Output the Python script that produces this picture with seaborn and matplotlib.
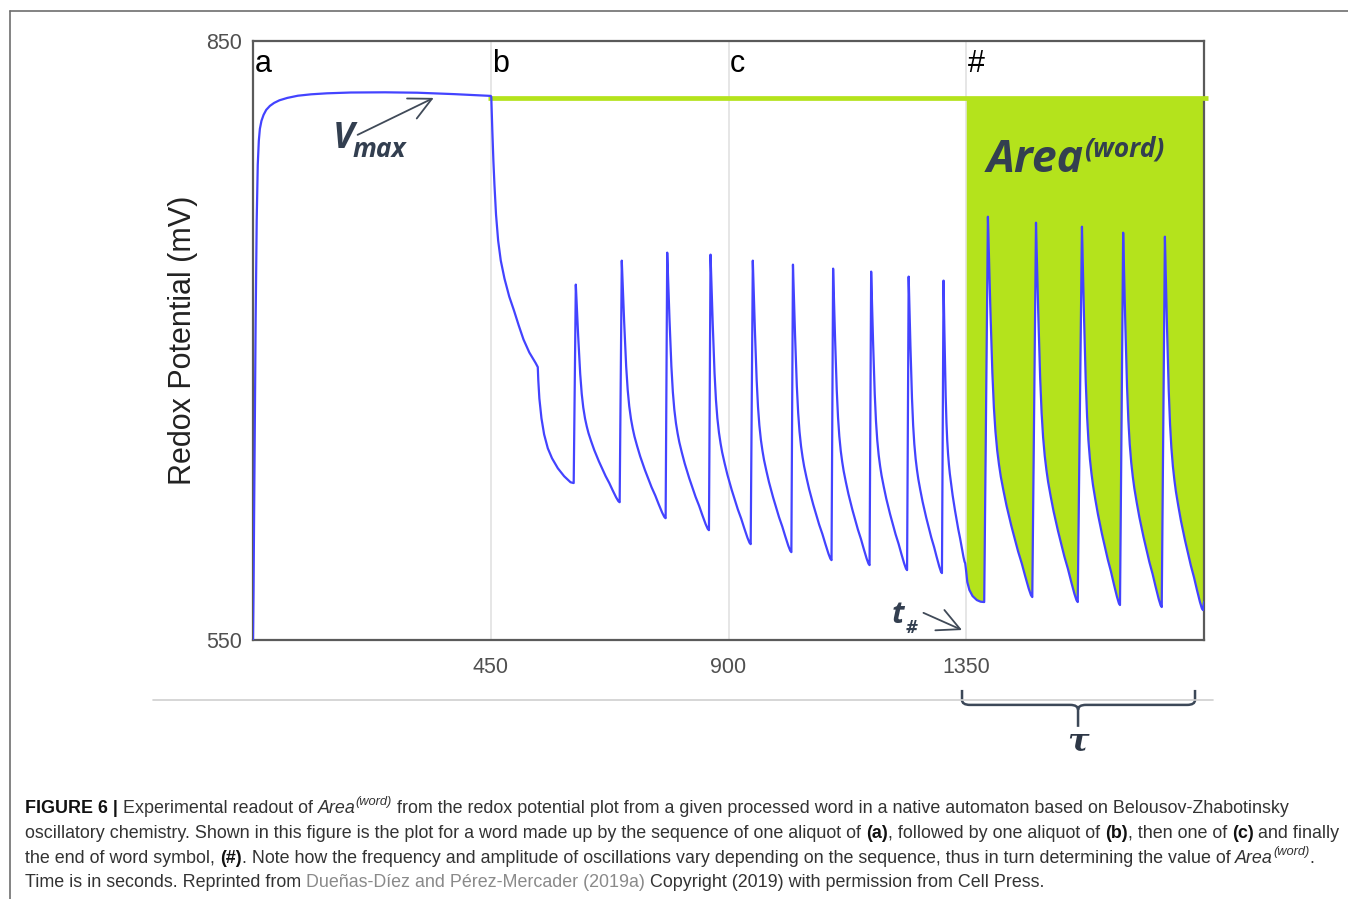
import numpy as np
import pandas as pd
import seaborn as sns
import matplotlib.pyplot as plt
from matplotlib.path import Path
from matplotlib.patches import PathPatch
from matplotlib.lines import Line2D
from matplotlib import font_manager

# ---- data (time in s, potential in mV) ----
rise_t = [0, 1, 3, 5, 7, 9, 11, 13, 16, 20, 25, 32, 40, 50, 65, 85, 110, 140,
          185, 250, 311, 380, 437, 450]
rise_v = [550, 575, 640, 710, 760, 788, 800, 806, 810, 813, 815.5, 817.5, 819, 820.3,
          821.5, 822.6, 823.3, 823.8, 824.2, 824.3, 824.1, 823.4, 822.7, 822.5]

drop_t = [451, 453, 455, 457, 460, 464, 469, 476, 485, 494, 503, 512, 523, 535, 539,
          540, 542, 546, 551, 558, 566, 577, 589, 601, 607]
drop_v = [822, 805, 790, 778, 763, 750, 740, 731, 722, 715, 707.5, 700.5, 694, 688.7, 686.7,
          680, 671, 661, 653, 646, 641, 636, 632, 629, 628.6]

spike_t = [611, 698, 784, 866, 946, 1022, 1098, 1170, 1241, 1307,
           1391, 1482, 1569, 1647, 1726]
spike_v = [728, 740, 744, 743, 740, 738, 736, 734.5, 732, 730,
           762, 759, 757, 754, 752]
trough_t = [694, 781, 863, 942, 1019, 1095, 1167, 1238, 1304, 1348,
            1475, 1561, 1641, 1720, 1798]
trough_v = [619, 611, 605, 598, 594, 590, 587.5, 585, 583.5, 588.5,
            571.5, 569, 567.5, 566.5, 565]

# after the "#" aliquot at 1350 s
hash_t = [1350, 1352, 1356, 1362, 1370, 1377, 1384]
hash_v = [584, 579, 575, 572, 570, 569.2, 569]
tail_t = [1800]
tail_v = [569]

# shape of one decay, as fraction of time / fraction of drop (peak -> trough)
decay_t = [0, 0.01, 0.025, 0.04, 0.054, 0.075, 0.1, 0.135, 0.17, 0.21, 0.25, 0.29,
           0.35, 0.42, 0.527, 0.6, 0.68, 0.764, 0.84, 0.92, 0.97, 1.0]
decay_v = [0, 0.04, 0.11, 0.18, 0.237, 0.32, 0.41, 0.502, 0.565, 0.615, 0.652, 0.683,
           0.72, 0.76, 0.8125, 0.845, 0.88, 0.912, 0.945, 0.978, 0.995, 1.0]

vmax_level = 821.5
tick_x = [450, 900, 1350]
tick_y = [550, 850]
step_labels = ["a", "b", "c", "#"]
step_x = [0, 450, 900, 1350]

caption = [
    [("FIGURE 6 |", "b"), (" Experimental readout of ", "n"), ("Area", "i"), ("(word)", "s"),
     (" from the redox potential plot from a given processed word in a native automaton based on Belousov-Zhabotinsky", "n")],
    [("oscillatory chemistry. Shown in this figure is the plot for a word made up by the sequence of one aliquot of ", "n"),
     ("(a)", "b"), (", followed by one aliquot of ", "n"), ("(b)", "b"), (", then one of ", "n"),
     ("(c)", "b"), (" and finally", "n")],
    [("the end of word symbol, ", "n"), ("(#)", "b"),
     (". Note how the frequency and amplitude of oscillations vary depending on the sequence, thus in turn determining the value of ", "n"),
     ("Area", "i"), ("(word)", "s"), (".", "n")],
    [("Time is in seconds. Reprinted from ", "n"), ("Dueñas-Díez and Pérez-Mercader (2019a)", "g"),
     (" Copyright (2019) with permission from Cell Press.", "n")],
]

# ---- build the trace ----
t_all = list(rise_t) + list(drop_t)
v_all = list(rise_v) + list(drop_v)
for i in range(len(spike_t)):
    ts, vs, te, ve = spike_t[i], spike_v[i], trough_t[i], trough_v[i]
    for ft, fv in zip(decay_t, decay_v):
        t_all.append(ts + ft * (te - ts))
        v_all.append(vs - fv * (vs - ve))
    if i == 9:
        t_all += hash_t
        v_all += hash_v
t_all += tail_t
v_all += tail_v
df = pd.DataFrame({"time": t_all, "mv": v_all})

W, H = 1348, 899
green = "#b4e31c"
blue = "#4343ff"
ink = "#333f50"


def has_font(name):
    try:
        font_manager.findfont(name, fallback_to_default=False)
        return True
    except ValueError:
        return False


sns.set_style("white")
plt.rcParams["font.family"] = ["Liberation Sans", "DejaVu Sans"]
anno_font = "Open Sans" if has_font("Open Sans") else "DejaVu Sans"
cap_font = "Liberation Sans Narrow" if has_font("Liberation Sans Narrow") else "Liberation Sans"

fig = plt.figure(figsize=(W / 100, H / 100), dpi=100)
ax = fig.add_axes([253 / W, 1 - 640 / H, 951 / W, 599 / H])

ax.fill_between(df.time[df.time >= 1350], df.mv[df.time >= 1350], vmax_level,
                color=green, lw=0, zorder=2)
ax.plot([445, 1808], [vmax_level, vmax_level], color=green, lw=3.4,
        solid_capstyle="butt", clip_on=False, zorder=3)
sns.lineplot(data=df, x="time", y="mv", sort=False, estimator=None,
             color=blue, lw=1.6, ax=ax, zorder=4)

ax.set_xlim(0, 1800)
ax.set_ylim(550, 850)
ax.set_xticks(tick_x)
ax.set_yticks(tick_y)
ax.tick_params(direction="in", length=5, width=1.2, color="#555555",
               labelsize=15.5, labelcolor="#505050")
ax.tick_params(axis="x", pad=12)
ax.tick_params(axis="y", pad=8)
ax.grid(axis="x", color="#e2e2e2", lw=1.2)
ax.set_axisbelow(True)
for sp in ax.spines.values():
    sp.set_visible(True)
    sp.set_color("#5a5a5a")
    sp.set_linewidth(1.6)
ax.set_xlabel("")
ax.set_ylabel("Redox Potential (mV)", fontsize=22, color="#222222")
ax.yaxis.set_label_coords(-0.058, 0.5)

for lab, x in zip(step_labels, step_x):
    ax.text(x + 3, 834.5, lab, fontsize=22, color="black", ha="left", va="baseline")

# V_max annotation
bi = dict(family=anno_font, fontweight="bold", fontstyle="italic", color=ink)
ax.text(150, 796.4, "V", fontsize=26, va="baseline", **bi)
ax.text(188, 792, "max", fontsize=19, va="baseline", **bi)
arrow = dict(arrowstyle="->,head_length=0.8,head_width=0.4", color="#404a58",
             lw=1.3, mutation_scale=20, shrinkA=0, shrinkB=0)
ax.annotate("", xy=(342, 821.5), xytext=(198, 803), arrowprops=arrow)

# Area(word)
ax.text(1389, 784.6, "Area", fontsize=32, va="baseline", **bi)
ax.text(1573, 792.4, "(word)", fontsize=19, va="baseline", **bi)

# t_#
ax.text(1209, 558.5, "t", fontsize=22, va="baseline", **bi)
ax.text(1236, 553.5, "#", fontsize=13, va="baseline", **bi)
ax.annotate("", xy=(1342, 555), xytext=(1269, 563.6), arrowprops=arrow, annotation_clip=False)

# brace for tau below the axis
xl, xr, xc = 1342, 1783, 1561.6
yt, yh, yb = 525, 517.5, 506.5
verts = [(xl, yt), (xl, yh + 2.5), (xl, yh), (xl + 15, yh), (xc - 15, yh), (xc, yh), (xc, yh - 2.5),
         (xc, yb),
         (xc, yh - 2.5), (xc, yh), (xc + 15, yh), (xr - 15, yh), (xr, yh), (xr, yh + 2.5), (xr, yt)]
codes = [Path.MOVETO, Path.LINETO, Path.CURVE3, Path.CURVE3, Path.LINETO, Path.CURVE3, Path.CURVE3,
         Path.LINETO,
         Path.MOVETO, Path.CURVE3, Path.CURVE3, Path.LINETO, Path.CURVE3, Path.CURVE3, Path.LINETO]
ax.add_patch(PathPatch(Path(verts, codes), fill=False, ec="#3c4858", lw=1.8, clip_on=False))
ax.text(xc, 499, "τ", fontsize=23, family="DejaVu Serif", fontstyle="italic",
        fontweight="bold", color="#2d3746", ha="center", va="center")

# separator line and outer frame
fig.add_artist(Line2D([153 / W, 1213 / W], [1 - 700 / H] * 2, color="#cfcfcf", lw=1.2))
fig.add_artist(Line2D([10 / W, 1], [1 - 11 / H] * 2, color="#6e6e6e", lw=1.2))
fig.add_artist(Line2D([10 / W, 10 / W], [1 - 11 / H, 0], color="#6e6e6e", lw=1.2))

# ---- caption, drawn run by run ----
renderer = fig.canvas.get_renderer()


def style(kind, size):
    base = dict(family=cap_font, fontsize=size, color="#333333")
    if kind == "b":
        base.update(fontweight="bold", color="#111111")
    elif kind == "i":
        base.update(fontstyle="italic")
    elif kind == "s":
        base.update(fontstyle="italic", fontsize=size * 0.72)
    elif kind == "g":
        base.update(color="#8a8a8a")
    return base


def width_of(s, props):
    t = fig.text(0, 0, s, **props)
    w = t.get_window_extent(renderer).width
    t.remove()
    return w


def draw_runs(x0, y_base, runs, size):
    x = x0
    made = []
    for text, kind in runs:
        props = style(kind, size)
        sw = width_of("a a", props) - width_of("aa", props)
        core = text.strip(" ")
        x += (len(text) - len(text.lstrip(" "))) * sw
        if core:
            lift = size * 0.45 * 100 / 72 if kind == "s" else 0
            t = fig.text(x / W, 1 - (y_base - lift) / H, core, ha="left", va="baseline", **props)
            made.append(t)
            x += t.get_window_extent(renderer).width
        x += (len(text) - len(text.rstrip(" "))) * sw
    return x, made


end, tmp = draw_runs(25, 840, caption[1], 12)
for t in tmp:
    t.remove()
cap_size = 12 * (1343 - 25) / (end - 25)
for line, yb_ in zip(caption, [813, 838, 863, 887]):
    draw_runs(25, yb_, line, cap_size)

fig.savefig("out.png", dpi=100)
